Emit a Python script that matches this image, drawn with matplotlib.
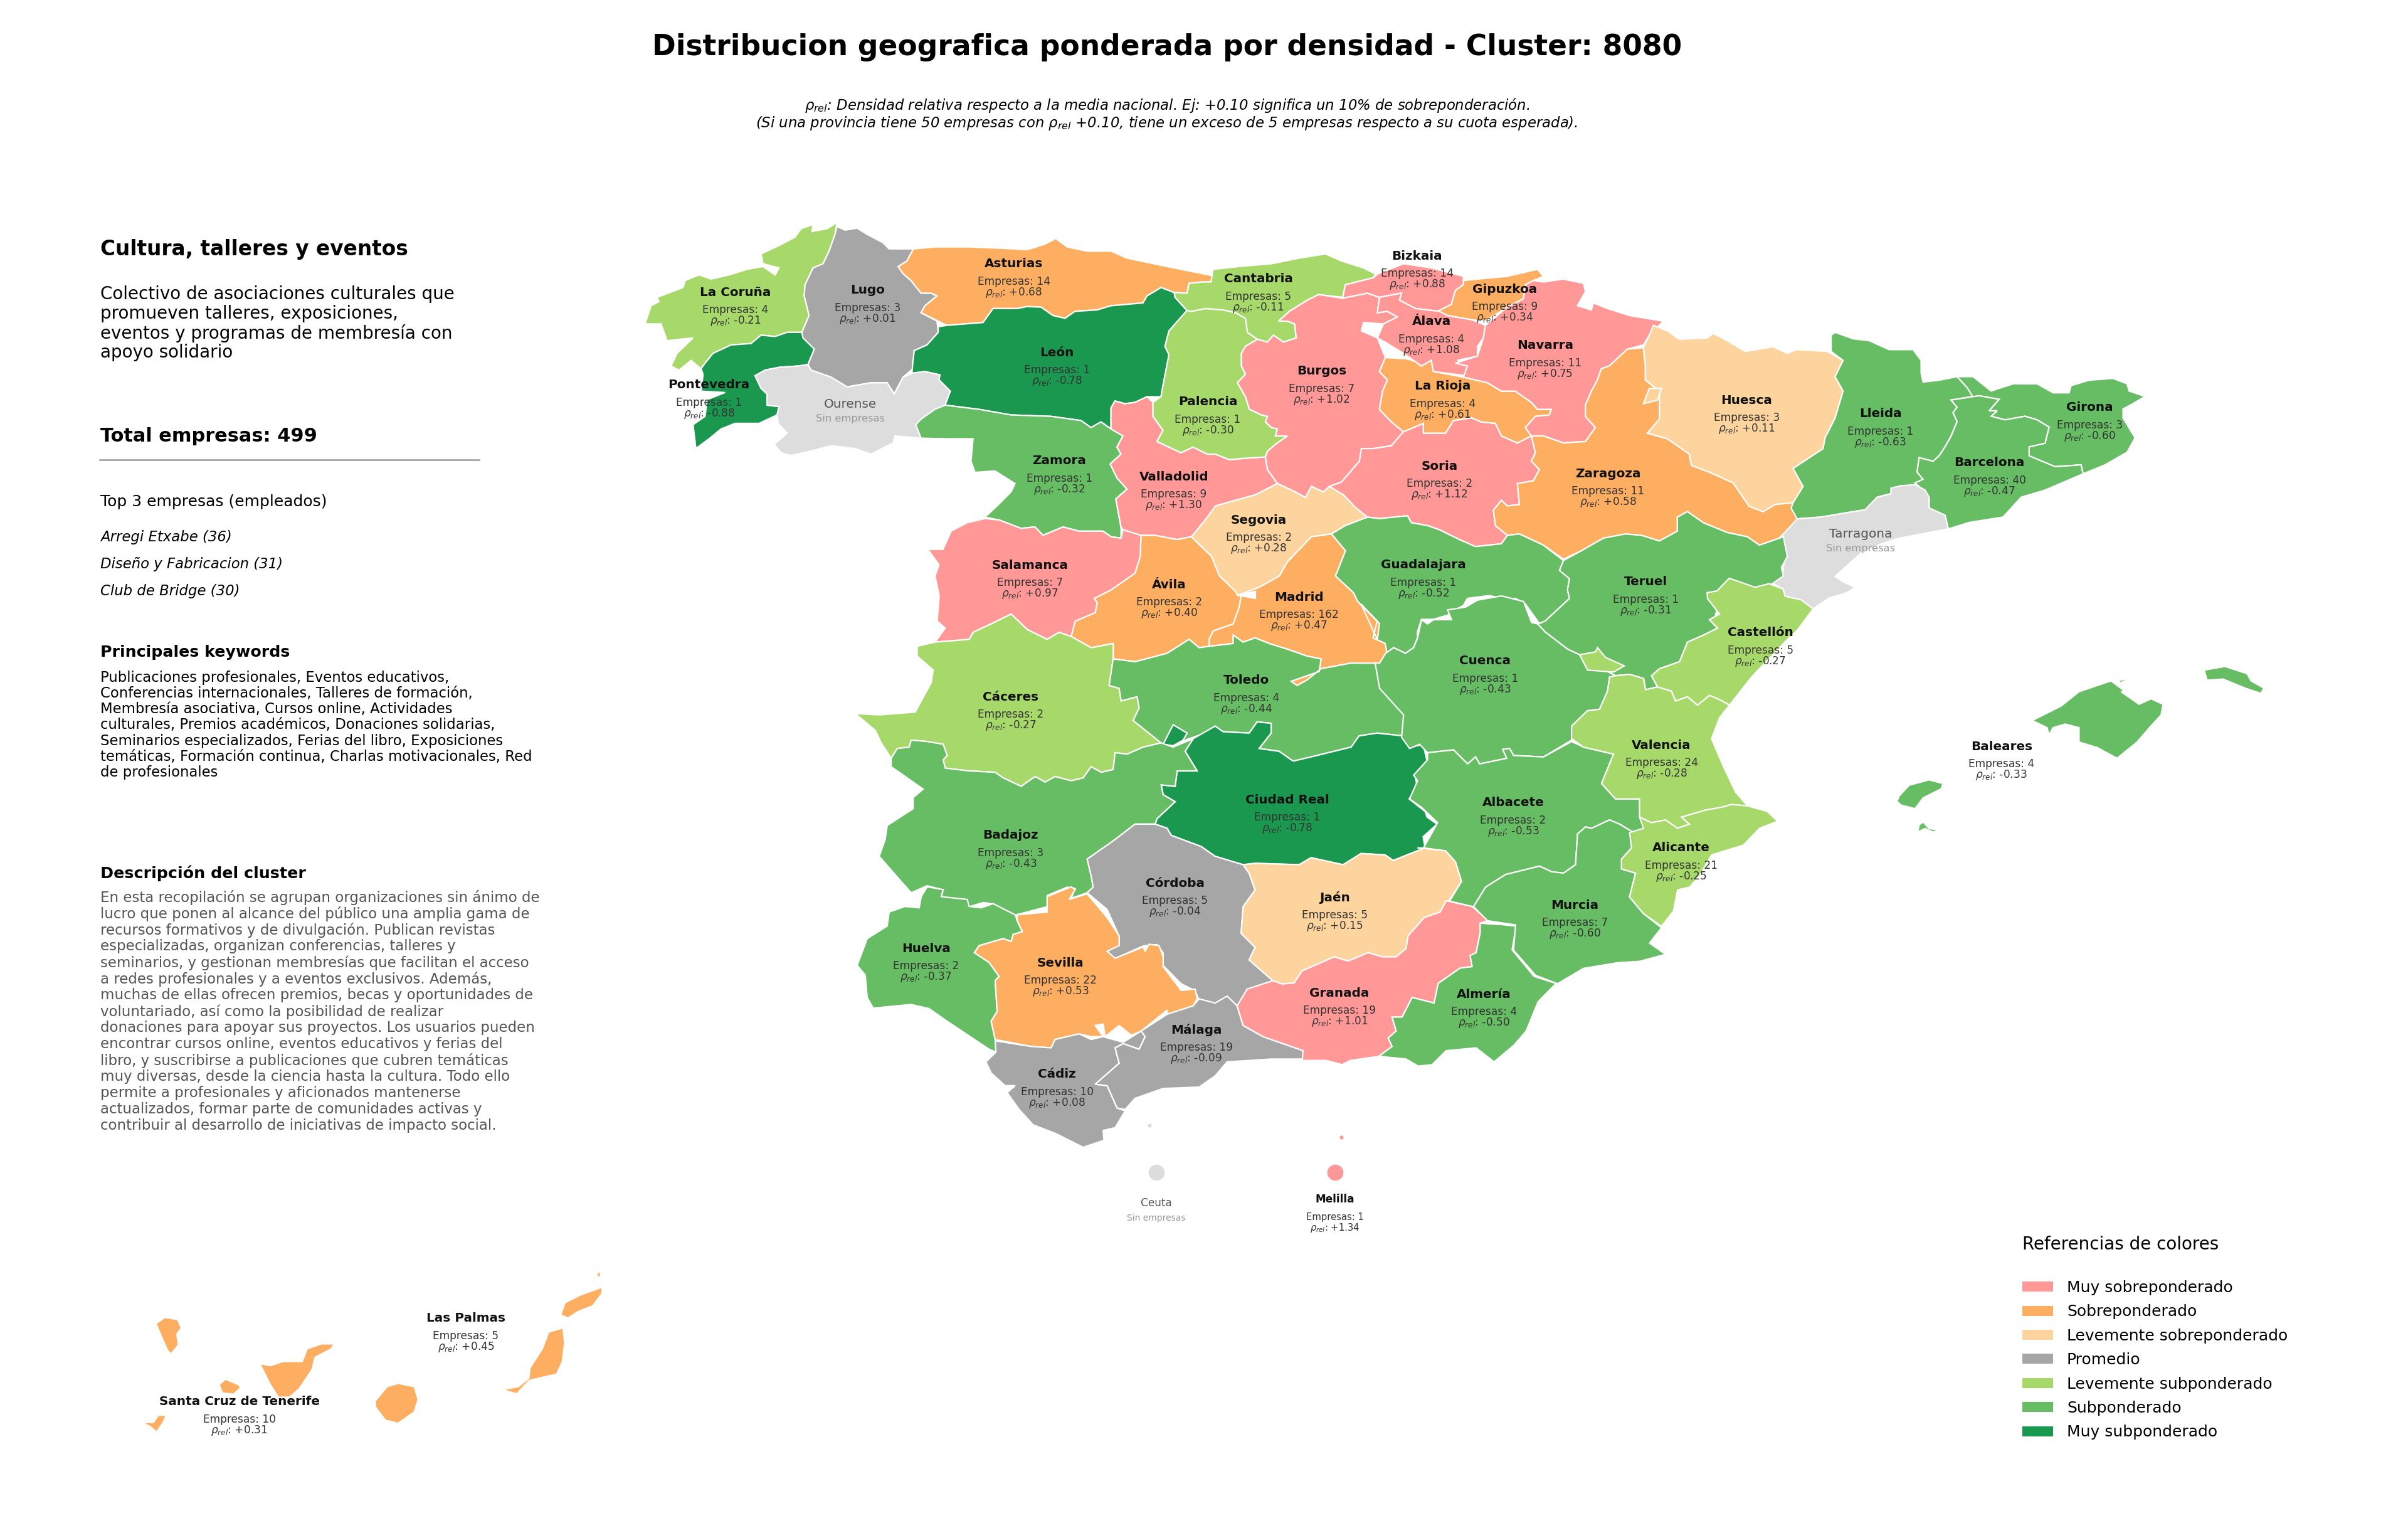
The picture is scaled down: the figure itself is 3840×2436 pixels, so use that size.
"""Mapa de densidad relativa por provincia, cluster 8080."""
import matplotlib
matplotlib.use("Agg")
import matplotlib.pyplot as plt
from matplotlib.patches import Patch


def crop(x0, y0, w, h):
    return lambda pts: [(x0 + x * w / 1568, y0 + y * h / 1568) for x, y in pts]


Z1 = crop(1000, 320, 1000, 700)
Z2 = crop(1900, 320, 1000, 700)
Z3 = crop(2700, 500, 1000, 900)
Z4 = crop(1300, 950, 1000, 700)
Z5 = crop(2200, 950, 1000, 700)
Z6 = crop(1300, 1300, 1000, 700)
Z7 = crop(2000, 1300, 1000, 700)
Z9 = crop(130, 1300, 800, 1050)
V = crop(0, 0, 3840, 3840)

# ---------------------------------------------------------------------------
# Data
# ---------------------------------------------------------------------------
NAMES = ["La Coruña", "Lugo", "Asturias", "León", "Pontevedra", "Zamora", "Valladolid", "Palencia",
         "Salamanca", "Ávila", "Bizkaia", "Cantabria", "Gipuzkoa", "Álava", "Navarra", "Burgos",
         "La Rioja", "Soria", "Zaragoza", "Huesca", "Segovia", "Madrid", "Guadalajara", "Teruel",
         "Lleida", "Girona", "Barcelona", "Castellón", "Baleares", "Cáceres", "Toledo", "Ciudad Real",
         "Badajoz", "Córdoba", "Jaén", "Huelva", "Sevilla", "Granada", "Cuenca", "Valencia",
         "Albacete", "Alicante", "Murcia", "Málaga", "Cádiz", "Almería", "Las Palmas",
         "Santa Cruz de Tenerife", "Melilla"]
EMPRESAS = [4, 3, 14, 1, 1, 1, 9, 1, 7, 2, 14, 5, 9, 4, 11, 7, 4, 2, 11, 3, 2, 162, 1, 1,
            1, 3, 40, 5, 4, 2, 4, 1, 3, 5, 5, 2, 22, 19, 1, 24, 2, 21, 7, 19, 10, 4, 5, 10, 1]
RHO_REL = [-0.21, 0.01, 0.68, -0.78, -0.88, -0.32, 1.30, -0.30, 0.97, 0.40, 0.88, -0.11, 0.34,
           1.08, 0.75, 1.02, 0.61, 1.12, 0.58, 0.11, 0.28, 0.47, -0.52, -0.31, -0.63, -0.60,
           -0.47, -0.27, -0.33, -0.27, -0.44, -0.78, -0.43, -0.04, 0.15, -0.37, 0.53, 1.01,
           -0.43, -0.28, -0.53, -0.25, -0.60, -0.09, 0.08, -0.50, 0.45, 0.31, 1.34]
NO_DATA = ["Ourense", "Tarragona", "Ceuta"]

LABEL_POS = dict(zip(NAMES, (
    Z1([(271, 323), (601, 315), (967, 221), (1075, 538), (205, 653), (1081, 925), (1367, 982),
        (1452, 714), (1007, 1298), (1355, 1367)])
    + Z2([(564, 193), (167, 275), (784, 312), (600, 427), (884, 512), (325, 604), (628, 658),
          (620, 944), (1042, 971), (1388, 708), (168, 1136), (269, 1412), (580, 1296), (1136, 1357)])
    + Z3([(468, 275), (992, 257), (741, 411), (168, 883), (771, 1199)])
    + Z4([(489, 357), (1078, 297), (1180, 724), (489, 851), (900, 1022), (1299, 1073), (277, 1255),
          (613, 1306), (1311, 1414)])
    + Z5([(264, 228), (705, 529), (334, 734), (754, 895), (488, 1100)])
    + Z6([(953, 761), (605, 920)])
    + Z7([(575, 634)])
    + Z9([(1201, 1194), (493, 1393)])
    + [(2129, 1910)]
)))
NO_DATA_POS = {"Ourense": Z1([(558, 724), (558, 776)]), "Tarragona": Z3([(419, 610), (419, 650)]),
               "Ceuta": [(1844, 1917), (1844, 1941)]}

LEGEND_LABELS = ["Muy sobreponderado", "Sobreponderado", "Levemente sobreponderado", "Promedio",
                 "Levemente subponderado", "Subponderado", "Muy subponderado"]
LEGEND_COLORS = ["#FF9896", "#FDAE61", "#FDD49E", "#A6A6A6", "#A6D96A", "#66BD63", "#1A9850"]
NO_DATA_COLOR = "#DDDDDD"

HEADLINE = "Cultura, talleres y eventos"
TAGLINE = ["Colectivo de asociaciones culturales que", "promueven talleres, exposiciones,",
           "eventos y programas de membresía con", "apoyo solidario"]
TOP3 = ["Arregi Etxabe (36)", "Diseño y Fabricacion (31)", "Club de Bridge (30)"]
KEYWORDS = ["Publicaciones profesionales, Eventos educativos,",
            "Conferencias internacionales, Talleres de formación,",
            "Membresía asociativa, Cursos online, Actividades",
            "culturales, Premios académicos, Donaciones solidarias,",
            "Seminarios especializados, Ferias del libro, Exposiciones",
            "temáticas, Formación continua, Charlas motivacionales, Red",
            "de profesionales"]
DESCRIPTION = ["En esta recopilación se agrupan organizaciones sin ánimo de",
               "lucro que ponen al alcance del público una amplia gama de",
               "recursos formativos y de divulgación. Publican revistas",
               "especializadas, organizan conferencias, talleres y",
               "seminarios, y gestionan membresías que facilitan el acceso",
               "a redes profesionales y a eventos exclusivos. Además,",
               "muchas de ellas ofrecen premios, becas y oportunidades de",
               "voluntariado, así como la posibilidad de realizar",
               "donaciones para apoyar sus proyectos. Los usuarios pueden",
               "encontrar cursos online, eventos educativos y ferias del",
               "libro, y suscribirse a publicaciones que cubren temáticas",
               "muy diversas, desde la ciencia hasta la cultura. Todo ello",
               "permite a profesionales y aficionados mantenerse",
               "actualizados, formar parte de comunidades activas y",
               "contribuir al desarrollo de iniciativas de impacto social."]

# province outlines
OUTLINES = {
    "La Coruña": [Z1([(525, 78), (520, 120), (505, 180), (490, 225), (465, 240), (445, 300), (443, 340), (455, 410),
                      (437, 470), (400, 470), (370, 485), (335, 480), (310, 510), (260, 515), (215, 545), (195, 580),
                      (185, 600), (160, 570), (130, 605), (110, 590), (125, 545), (165, 490), (130, 495), (100, 500),
                      (85, 440), (45, 440), (60, 375), (80, 360), (75, 345), (140, 310), (145, 285), (180, 265),
                      (210, 280), (255, 265), (300, 245), (340, 235), (370, 265), (380, 240), (340, 225), (335, 190),
                      (380, 160), (420, 130), (435, 100), (465, 85), (462, 110), (480, 105), (500, 100)])],
    "Lugo": [Z1([(520, 120), (525, 92), (545, 105), (575, 98), (600, 120), (640, 150), (655, 172), (716, 172),
                 (700, 215), (678, 235), (690, 260), (710, 285), (735, 330), (760, 330), (775, 340), (745, 375),
                 (735, 400), (775, 430), (778, 470), (750, 515), (718, 535), (715, 600), (690, 630), (668, 690),
                 (650, 650), (610, 650), (550, 665), (510, 630), (460, 605), (452, 585), (468, 530), (437, 490),
                 (437, 470), (455, 410), (443, 340), (445, 300), (465, 240), (490, 225), (505, 180)])],
    "Asturias": [Z1([(716, 172), (770, 165), (850, 165), (940, 170), (1000, 175), (1045, 155), (1072, 135), (1100, 165),
                     (1150, 180), (1210, 180), (1250, 205), (1350, 235), (1465, 268), (1460, 290), (1440, 290),
                     (1405, 295), (1400, 330), (1368, 328), (1335, 310), (1300, 340), (1290, 365), (1210, 375),
                     (1175, 390), (1120, 395), (1095, 420), (1065, 410), (1035, 380), (1000, 378), (975, 385),
                     (915, 385), (890, 435), (800, 445), (778, 430), (735, 400), (745, 375), (775, 340), (760, 330),
                     (735, 330), (710, 285), (690, 260), (678, 235), (700, 215)])],
    "León": [Z1([(800, 445), (890, 435), (915, 385), (975, 385), (1000, 378), (1035, 380), (1065, 410), (1095, 420),
                 (1120, 395), (1175, 390), (1210, 375), (1290, 365), (1300, 340), (1335, 310), (1368, 328), (1370, 345),
                 (1400, 392), (1355, 465), (1345, 520), (1355, 550), (1340, 660), (1335, 700), (1300, 700), (1270, 720),
                 (1245, 725), (1220, 715), (1210, 740), (1210, 815), (1185, 790), (1160, 810), (1135, 785), (1060, 770),
                 (960, 765), (880, 745), (795, 730), (808, 680), (780, 640), (782, 622), (745, 610), (712, 618),
                 (715, 570), (718, 535), (750, 515), (778, 470), (778, 450)])],
    "Pontevedra": [Z1([(437, 470), (440, 490), (468, 530), (452, 585), (430, 590), (380, 595), (345, 605), (320, 625),
                       (335, 670), (350, 690), (350, 730), (380, 735), (375, 765), (330, 795), (270, 795), (235, 815),
                       (205, 850), (172, 885), (165, 800), (195, 770), (200, 710), (245, 685), (185, 680), (190, 620),
                       (185, 600), (195, 580), (215, 545), (260, 515), (310, 510), (335, 480), (370, 485), (400, 470)])],
    "Ourense": [Z1([(320, 625), (345, 605), (380, 595), (430, 590), (452, 585), (460, 605), (510, 630), (550, 665),
                    (610, 650), (650, 650), (668, 690), (690, 630), (715, 615), (745, 610), (782, 622), (780, 640),
                    (808, 680), (795, 730), (770, 745), (735, 780), (722, 800), (735, 820), (735, 848), (670, 840),
                    (665, 865), (610, 905), (570, 885), (510, 875), (470, 890), (410, 910), (385, 900), (368, 870),
                    (400, 830), (378, 795), (375, 765), (380, 735), (350, 730), (350, 690), (335, 670)])],
    "Zamora": [Z1([(795, 730), (880, 745), (960, 765), (1060, 770), (1135, 785), (1160, 810), (1185, 790), (1210, 815),
                   (1240, 840), (1225, 880), (1235, 905), (1208, 940), (1225, 990), (1250, 1030), (1222, 1065),
                   (1235, 1165), (1235, 1205), (1210, 1200), (1190, 1180), (1130, 1180), (1090, 1165), (1040, 1195),
                   (1020, 1165), (985, 1170), (930, 1140), (895, 1130), (925, 1090), (960, 1040), (970, 1010),
                   (920, 965), (870, 970), (860, 930), (865, 850), (800, 850), (735, 848), (722, 800), (735, 780),
                   (770, 745)])],
    "Valladolid": [Z1([(1210, 740), (1220, 715), (1245, 725), (1270, 720), (1300, 700), (1315, 720), (1315, 770), (1340, 820),
                       (1325, 860), (1385, 900), (1415, 880)])
                   + Z2([(40, 905), (60, 905), (95, 925), (130, 920), (185, 915), (190, 960), (215, 1010), (160, 1050),
                         (60, 1090), (40, 1130), (0, 1200)])
                   + Z1([(1375, 1210), (1320, 1195), (1285, 1195), (1240, 1175), (1235, 1165), (1222, 1065), (1250, 1030),
                         (1225, 990), (1208, 940), (1235, 905), (1225, 880), (1240, 840), (1210, 815)])],
    "Palencia": [Z2([(0, 395), (35, 385), (80, 390), (110, 400), (135, 420), (140, 470), (165, 495), (135, 520),
                     (125, 545), (125, 590), (135, 620), (115, 650), (135, 700), (145, 745), (175, 765), (190, 770),
                     (185, 790), (200, 810), (215, 815), (210, 840), (240, 840), (210, 870), (190, 895), (185, 915),
                     (130, 920), (95, 925), (60, 905), (40, 905)])
                 + Z1([(1415, 880), (1385, 900), (1325, 860), (1340, 820), (1315, 770), (1315, 720), (1335, 700),
                       (1340, 660), (1355, 550), (1345, 520), (1355, 465), (1400, 392)])],
    "Cantabria": [Z2([(54, 245), (120, 235), (200, 225), (270, 205), (335, 190), (375, 215), (430, 240), (460, 262),
                      (455, 275), (385, 300), (378, 345), (318, 335), (290, 355), (245, 395), (218, 430), (240, 430),
                      (258, 440), (262, 490), (230, 505), (205, 480), (190, 505), (165, 495), (140, 470), (135, 420),
                      (110, 400), (80, 390), (35, 385), (0, 395), (-11, 392), (-41, 345), (-43, 328), (-11, 330),
                      (-6, 295), (29, 290), (49, 290)])],
    "Burgos": [Z2([(318, 335), (378, 348), (440, 330), (470, 345), (465, 400), (490, 395), (515, 415), (480, 440),
                   (430, 435), (425, 465), (465, 490), (485, 560), (470, 610), (490, 640), (478, 680), (470, 745),
                   (500, 790), (530, 825), (500, 875), (455, 885), (425, 885), (420, 930), (375, 1005), (345, 1020),
                   (330, 1040), (300, 1020), (285, 1060), (260, 1040), (215, 1010), (190, 960), (185, 915), (190, 895),
                   (210, 870), (240, 840), (210, 840), (215, 815), (200, 810), (185, 790), (190, 770), (175, 765),
                   (145, 745), (135, 700), (115, 650), (135, 620), (125, 590), (125, 545), (135, 520), (165, 495),
                   (190, 505), (205, 480), (230, 505), (262, 490), (258, 440), (240, 430), (218, 430), (245, 395),
                   (290, 355)])],
    "Segovia": [Z2([(215, 1010), (260, 1040), (285, 1060), (300, 1020), (330, 1040), (345, 1020), (380, 1050), (410, 1095),
                    (440, 1130), (385, 1160), (350, 1190), (300, 1200), (240, 1290), (220, 1340), (170, 1380),
                    (115, 1410), (110, 1395), (70, 1340), (50, 1270), (10, 1215), (0, 1200), (40, 1130), (60, 1090),
                    (160, 1050)])],
    "Soria": [Z2([(530, 825), (580, 795), (580, 830), (635, 830), (655, 785), (700, 775), (725, 790), (760, 795),
                  (775, 840), (815, 865), (850, 840), (860, 900), (850, 930), (870, 960), (855, 1000), (815, 1010),
                  (820, 1085), (790, 1090), (775, 1070), (755, 1105), (760, 1160), (790, 1195), (775, 1225), (710, 1235),
                  (670, 1210), (620, 1175), (590, 1160), (550, 1150), (540, 1125), (470, 1135), (440, 1130), (410, 1095),
                  (380, 1050), (345, 1020), (375, 1005), (420, 930), (425, 885), (455, 885), (500, 875)])],
    "La Rioja": [Z2([(485, 560), (540, 565), (560, 575), (575, 590), (600, 570), (605, 610), (680, 630), (740, 650),
                     (775, 680), (810, 680), (850, 720), (865, 745), (900, 745), (895, 765), (860, 770), (835, 810),
                     (850, 840), (815, 865), (775, 840), (760, 795), (725, 790), (700, 775), (655, 785), (635, 830),
                     (580, 830), (580, 795), (530, 825), (500, 790), (470, 745), (478, 680), (490, 640), (470, 610)])],
    "Bizkaia": [Z2([(385, 300), (455, 275), (465, 262), (530, 225), (600, 240), (680, 270), (680, 300), (660, 320),
                    (650, 370), (620, 395), (560, 385), (520, 355), (525, 330), (470, 345), (440, 330), (378, 348)])],
    "Gipuzkoa": [Z2([(680, 285), (750, 275), (790, 270), (865, 245), (880, 270), (855, 285), (835, 300), (830, 350),
                     (790, 380), (735, 430), (700, 425), (640, 410), (615, 395), (650, 370), (660, 320), (680, 300)])],
    "Álava": [Z2([(470, 345), (525, 330), (520, 355), (560, 385), (620, 395), (640, 410), (700, 425), (735, 445),
                  (730, 490), (715, 520), (715, 555), (665, 570), (690, 590), (688, 625), (605, 610), (600, 570),
                  (575, 590), (560, 575), (530, 545), (490, 510), (465, 490), (480, 440), (515, 415), (490, 395),
                  (465, 400)])],
    "Navarra": [Z2([(880, 290), (930, 280), (980, 295), (985, 325), (965, 375), (1000, 390), (1005, 365), (1040, 385),
                    (1095, 410), (1180, 430), (1145, 480), (1130, 515), (1090, 530), (1045, 590), (1025, 600),
                    (1015, 640), (1000, 680), (985, 730), (985, 770), (1010, 810), (985, 860), (930, 865), (880, 840),
                    (850, 840), (835, 810), (860, 770), (895, 765), (900, 745), (865, 745), (850, 720), (810, 680),
                    (775, 680), (740, 650), (680, 630), (690, 590), (660, 580), (715, 555), (730, 490), (735, 445),
                    (790, 380), (830, 350), (835, 300), (855, 285)])],
    "Zaragoza": [Z2([(1130, 525), (1135, 590), (1135, 640), (1170, 680), (1170, 780), (1140, 830), (1190, 850), (1245, 905),
                     (1250, 945)])
                 + Z3([(40, 440), (100, 470), (140, 535), (175, 550), (205, 530), (250, 525), (260, 570)])
                 + Z2([(1480, 1200), (1420, 1230), (1390, 1200), (1340, 1185), (1280, 1150), (1240, 1110), (1215, 1130),
                       (1215, 1180), (1170, 1215), (1125, 1195), (1085, 1190), (1030, 1205), (975, 1250), (930, 1280),
                       (880, 1230), (820, 1190), (790, 1195), (760, 1160), (755, 1105), (775, 1070), (790, 1090),
                       (820, 1085), (815, 1010), (855, 1000), (870, 960), (850, 930), (860, 900), (850, 840), (880, 840),
                       (930, 865), (985, 860), (1010, 810), (985, 770), (985, 730), (1000, 680), (1015, 640), (1025, 600),
                       (1045, 590), (1090, 530)])],
    "Huesca": [Z2([(1140, 830), (1170, 780), (1170, 680), (1135, 640), (1135, 590), (1130, 525), (1145, 480), (1155, 445),
                   (1190, 465), (1220, 495), (1290, 490)])
               + Z3([(50, 55), (85, 75), (130, 105), (200, 92), (235, 110), (260, 100), (335, 105), (375, 130), (355, 175),
                     (375, 215), (355, 290), (330, 345), (325, 375), (250, 430), (275, 480), (250, 525), (205, 530),
                     (175, 550), (140, 535), (100, 470), (40, 440)])
               + Z2([(1250, 945), (1245, 905), (1190, 850)]),
               Z2([(1145, 670), (1175, 670), (1165, 712), (1130, 725)])],
    "Lleida": [Z3([(345, 60), (355, 52), (400, 70), (440, 75), (490, 100), (550, 100), (570, 130), (570, 165), (575, 190),
                   (615, 185), (660, 175), (685, 205), (700, 230), (645, 240), (660, 260), (650, 275), (660, 300),
                   (645, 340), (630, 370), (615, 395), (600, 410), (565, 400), (560, 440), (575, 460), (555, 470),
                   (575, 485), (520, 478), (495, 485), (495, 500), (460, 510), (430, 545), (400, 550), (320, 565),
                   (260, 570), (245, 540), (250, 525), (275, 480), (250, 430), (325, 375), (330, 345), (355, 290),
                   (375, 215), (355, 175), (375, 130), (345, 105)])],
    "Girona": [Z3([(660, 175), (700, 175), (745, 215), (800, 195), (860, 195), (900, 220), (940, 220), (945, 200),
                   (990, 185), (1050, 180), (1085, 195), (1090, 215), (1130, 230), (1100, 250), (1075, 265), (1075, 290),
                   (1105, 345), (1085, 385), (1030, 420), (975, 445), (970, 420), (905, 425), (840, 395), (840, 370),
                   (880, 360), (890, 315), (860, 295), (830, 285), (780, 295), (745, 285), (760, 270), (740, 270),
                   (765, 238), (715, 228), (700, 232), (685, 205)])],
    "Barcelona": [Z3([(645, 240), (715, 228), (765, 238), (740, 270), (760, 270), (745, 285), (780, 295), (830, 285),
                      (860, 295), (890, 315), (880, 360), (840, 370), (840, 395), (905, 425), (970, 420), (975, 445),
                      (880, 490), (820, 510), (775, 565), (690, 580), (638, 598), (630, 560), (590, 540), (590, 510),
                      (575, 490), (555, 470), (575, 460), (560, 440), (565, 400), (600, 410), (615, 395), (630, 370),
                      (645, 340), (660, 300), (650, 275), (660, 260)])],
    "Tarragona": [Z3([(260, 570), (320, 565), (400, 550), (430, 545), (460, 510), (495, 500), (495, 485), (520, 478),
                      (555, 475), (580, 490), (590, 510), (590, 540), (630, 560), (638, 598), (580, 610), (510, 625),
                      (470, 640), (420, 665), (385, 700), (355, 730), (375, 745), (405, 760), (385, 775), (340, 790),
                      (300, 820), (270, 795), (230, 785), (225, 765), (195, 748), (225, 715), (230, 660), (205, 635),
                      (240, 595)])],
    "Teruel": [Z2([(930, 1285), (975, 1250), (1030, 1205), (1085, 1190), (1125, 1195), (1170, 1215), (1215, 1180),
                   (1215, 1130), (1240, 1110), (1280, 1150), (1340, 1185), (1390, 1200), (1420, 1230), (1480, 1200),
                   (1490, 1270), (1475, 1310), (1480, 1340), (1450, 1370), (1400, 1385), (1345, 1350), (1320, 1395),
                   (1290, 1400), (1320, 1430), (1310, 1480), (1320, 1530)])
               + Z5([(850, 65), (825, 85), (845, 115), (810, 140), (770, 165), (750, 235), (700, 260), (680, 285),
                     (695, 325), (665, 335), (660, 295), (625, 280), (590, 285), (570, 270), (520, 255), (500, 210),
                     (470, 190), (415, 130), (395, 100)])
               + Z2([(885, 1500), (945, 1420), (940, 1390), (945, 1350), (920, 1320)])],
    "Guadalajara": [Z2([(350, 1190), (385, 1160), (440, 1130), (470, 1135), (540, 1125), (550, 1150), (590, 1160), (620, 1175),
                        (670, 1210), (710, 1235), (775, 1225), (790, 1195), (820, 1190), (880, 1230), (930, 1285),
                        (920, 1320), (945, 1350), (940, 1390), (945, 1420), (885, 1500), (870, 1510), (835, 1440),
                        (810, 1420), (790, 1425), (745, 1410), (690, 1420), (680, 1445), (650, 1470), (640, 1480),
                        (605, 1495), (575, 1495), (565, 1540)])
                    + Z5([(95, 150), (85, 185), (65, 205), (35, 185), (15, 205)])
                    + Z4([(1425, 170), (1395, 150), (1405, 90), (1365, 30)])
                    + Z2([(470, 1510), (415, 1430), (405, 1400), (360, 1340), (385, 1250)])],
    "Madrid": [Z2([(350, 1190), (385, 1250), (360, 1340), (405, 1400), (415, 1430), (470, 1510), (465, 1568)])
               + Z4([(1365, 30), (1405, 90), (1395, 150), (1425, 170), (1430, 205), (1430, 240), (1400, 240), (1340, 240),
                     (1265, 260), (1230, 300), (1205, 320), (1190, 305), (1260, 270), (1265, 225), (1230, 215),
                     (1180, 190), (1135, 170), (1100, 150), (1070, 165), (1045, 140), (1045, 170), (985, 180), (985, 155),
                     (995, 125), (1045, 100), (1060, 40), (1065, 0)])
               + Z2([(160, 1420), (160, 1395), (115, 1410), (170, 1380), (220, 1340), (240, 1290), (300, 1200)])],
    "Ávila": [Z1([(1285, 1195), (1320, 1195), (1375, 1210), (1411, 1200)])
              + Z2([(10, 1215), (50, 1270), (70, 1340), (110, 1395), (115, 1410), (124, 1411)])
              + Z4([(1060, 40), (1045, 100), (995, 125), (985, 155), (985, 180), (960, 185), (935, 155), (880, 205),
                    (800, 235), (745, 225), (745, 170), (690, 185), (640, 145), (650, 90), (700, 60), (705, 25)])
              + Z1([(1168, 1420), (1210, 1390), (1270, 1330), (1283, 1270)])],
    "Salamanca": [Z1([(752, 1245), (790, 1245), (810, 1180), (850, 1150), (895, 1135), (930, 1140), (985, 1170), (1020, 1165),
                      (1040, 1195), (1090, 1165), (1130, 1180), (1190, 1180), (1210, 1200), (1235, 1205), (1240, 1175),
                      (1285, 1195), (1283, 1270), (1270, 1330), (1210, 1390), (1168, 1420)])
                  + Z4([(705, 25), (700, 60), (650, 90), (640, 145), (610, 130), (580, 155), (530, 120), (490, 65), (440, 100),
                        (395, 130), (385, 155), (345, 160), (300, 165), (325, 115), (305, 90), (310, 0)])
                  + Z1([(770, 1340), (780, 1300)])],
    "Cáceres": [Z4([(300, 165), (345, 160), (385, 155), (395, 130), (440, 100), (490, 65), (530, 120), (580, 155), (610, 130),
                    (640, 145), (690, 185), (745, 170), (745, 225), (735, 320), (760, 330), (765, 375), (805, 360),
                    (810, 400), (795, 445), (865, 525), (820, 540), (780, 565), (750, 560), (745, 620), (715, 630),
                    (690, 610), (670, 650), (640, 660), (600, 645), (575, 665), (550, 645), (515, 680), (470, 650),
                    (450, 630), (385, 625), (325, 615), (320, 585), (330, 570), (320, 530), (280, 520), (240, 515),
                    (235, 540), (205, 545), (190, 580), (165, 525), (150, 480), (100, 420), (160, 425), (250, 415),
                    (290, 310), (295, 265), (255, 215), (255, 180)])],
    "Toledo": [Z4([(745, 225), (800, 235), (880, 205), (935, 155), (960, 185), (985, 180), (1045, 170), (1045, 140),
                   (1070, 165), (1100, 150), (1135, 170), (1180, 190), (1230, 215), (1265, 225), (1260, 270), (1190, 305),
                   (1205, 320), (1230, 300), (1265, 260), (1340, 240), (1400, 240), (1415, 330), (1475, 420), (1470, 500),
                   (1405, 490), (1360, 500), (1340, 540), (1240, 575), (1195, 590), (1160, 555), (1110, 545), (1140, 490),
                   (1140, 455), (1105, 450), (1085, 490), (1020, 485), (1000, 465), (965, 495), (925, 515), (895, 540),
                   (865, 525), (795, 445), (810, 400), (805, 360), (765, 375), (760, 330), (735, 320)])],
    "Ciudad Real": [Z4([(945, 510), (1000, 465), (1020, 485), (1085, 490), (1105, 450), (1140, 455), (1140, 490), (1110, 545),
                        (1160, 555), (1195, 590), (1240, 575), (1340, 540), (1360, 500), (1405, 490), (1470, 500),
                        (1490, 540), (1520, 530), (1530, 590), (1500, 640), (1505, 680), (1485, 725), (1525, 770),
                        (1530, 790), (1555, 815), (1520, 860), (1525, 900), (1480, 925), (1445, 945), (1425, 925),
                        (1365, 920), (1320, 960), (1240, 935), (1210, 960), (1100, 955), (1070, 960), (1000, 930),
                        (965, 895), (890, 855), (880, 830), (850, 815), (855, 795), (900, 735), (870, 710), (865, 675),
                        (900, 680), (905, 625), (955, 625), (925, 555)]),
                    Z4([(895, 460), (930, 490), (920, 515), (895, 535), (870, 530)])],
    "Badajoz": [Z4([(190, 580), (205, 545), (235, 540), (240, 515), (280, 520), (320, 530), (330, 570), (320, 585),
                    (325, 615), (385, 625), (450, 630), (470, 650), (515, 680), (550, 645), (575, 665), (600, 645),
                    (640, 660), (670, 650), (690, 610), (715, 630), (745, 620), (750, 560), (780, 565), (820, 540),
                    (865, 525), (895, 540), (945, 510), (925, 555), (955, 625), (905, 625), (900, 680), (865, 675),
                    (870, 710), (900, 735), (855, 795), (850, 815), (800, 815), (745, 875), (680, 940), (690, 1000),
                    (695, 1040), (680, 1060), (640, 1080), (650, 1045), (630, 1040), (580, 1070), (580, 1110), (500, 1140),
                    (445, 1100), (420, 1095), (385, 1110), (370, 1085), (315, 1075), (320, 1050), (280, 1035), (240, 1060),
                    (215, 1020), (160, 930), (175, 870), (180, 820), (245, 760), (245, 720), (270, 690), (230, 650),
                    (190, 610)])],
    "Córdoba": [Z4([(800, 815), (850, 815), (880, 830), (890, 855), (965, 895), (1000, 930), (1070, 960), (1085, 990),
                    (1100, 1050), (1070, 1110), (1065, 1205), (1100, 1255), (1085, 1300), (1145, 1375), (1080, 1410),
                    (1055, 1465), (1030, 1430), (1000, 1465), (960, 1445), (950, 1410), (915, 1385), (870, 1320),
                    (870, 1275), (855, 1245), (820, 1250), (750, 1295), (730, 1270), (760, 1240), (760, 1215), (730, 1120),
                    (680, 1060), (695, 1040), (690, 1000), (680, 940), (745, 875)])],
    "Jaén": [Z4([(1070, 960), (1100, 955), (1210, 960), (1240, 935), (1320, 960), (1365, 920), (1425, 925), (1445, 945),
                 (1480, 925), (1525, 900)])
             + Z5([(95, 900), (165, 910), (190, 950), (205, 1020), (175, 1085)])
             + Z7([(465, 345), (425, 365), (385, 430), (380, 475), (355, 505), (320, 505), (285, 490), (235, 520),
                   (200, 505), (120, 555), (100, 598), (70, 602)])
             + Z4([(1145, 1375), (1085, 1300), (1100, 1255), (1065, 1205), (1070, 1110), (1100, 1050), (1085, 990)])],
    "Huelva": [Z6([(280, 255), (320, 265), (315, 290), (380, 300), (385, 325), (415, 330), (445, 315), (500, 355),
                   (505, 375), (518, 415), (495, 425), (490, 450), (470, 440), (410, 465), (398, 490), (435, 525),
                   (460, 575), (450, 590), (455, 700), (440, 735), (450, 800), (452, 845), (435, 835), (330, 735),
                   (285, 690), (240, 675), (145, 688), (130, 650), (125, 570), (105, 535), (130, 440), (180, 395),
                   (185, 345), (225, 325), (260, 330), (265, 290)])],
    "Sevilla": [Z6([(505, 355), (580, 345), (580, 290), (640, 255), (650, 265), (635, 300), (680, 280), (730, 365),
                    (760, 430), (760, 465), (730, 485), (750, 510), (820, 470), (825, 485), (835, 460), (860, 465),
                    (870, 505), (870, 540), (915, 625), (950, 620), (955, 655), (945, 680), (880, 710), (880, 695),
                    (815, 770), (790, 785), (760, 750), (725, 790), (720, 745), (700, 750), (720, 790), (690, 790),
                    (660, 780), (600, 800), (590, 830), (540, 825), (450, 800), (440, 735), (455, 700), (450, 590),
                    (460, 575), (435, 525), (398, 490), (410, 465), (470, 440), (490, 450), (495, 425), (518, 415),
                    (505, 375)])],
    "Cádiz": [Z6([(450, 805), (540, 825), (590, 830), (600, 800), (660, 780), (690, 800), (720, 790), (770, 810), (815, 770),
                  (825, 790), (810, 835), (770, 815), (750, 830), (760, 885), (700, 960), (730, 965), (755, 1045),
                  (775, 1055), (750, 1115), (720, 1125), (722, 1160), (670, 1185), (600, 1135), (545, 1105), (510, 1050),
                  (480, 990), (500, 965), (475, 965), (440, 920), (427, 880), (452, 845)])],
    "Málaga": [Z6([(960, 655), (1000, 670), (1030, 645), (1055, 680), (1070, 750), (1120, 790), (1220, 840), (1220, 870),
                   (1140, 870), (1030, 880), (1000, 930), (960, 970), (870, 975), (800, 1010), (775, 1050), (755, 1045),
                   (730, 965), (700, 960), (760, 885), (750, 830), (770, 815), (810, 835), (825, 790), (815, 770),
                   (880, 710), (945, 680)])],
    "Granada": [Z7([(480, 305), (545, 325), (585, 375), (565, 385), (565, 420), (555, 490), (540, 500), (545, 540),
                    (515, 545), (460, 600), (450, 670), (395, 650), (370, 720), (345, 720), (355, 770), (335, 795),
                    (345, 825), (312, 860), (240, 875), (220, 890), (180, 875), (140, 875), (120, 875)])
                + Z6([(1220, 840), (1120, 790), (1070, 750), (1055, 680), (1080, 620), (1145, 590)])
                + Z7([(70, 602), (100, 598), (120, 555), (200, 505), (235, 520), (285, 490), (320, 505), (355, 505),
                      (380, 475), (385, 430), (425, 365), (465, 345)])],
    "Almería": [Z7([(565, 385), (620, 390), (655, 395), (645, 480), (700, 575), (755, 600), (710, 665), (680, 770), (650, 820),
                    (600, 880), (555, 830), (480, 840), (445, 890), (410, 895), (380, 870), (312, 860), (345, 825),
                    (335, 795), (355, 770), (345, 720), (370, 720), (395, 650), (450, 670), (460, 600), (515, 545),
                    (545, 540), (540, 500), (555, 490), (565, 420)])],
    "Cuenca": [Z5([(395, 100), (415, 130), (470, 190), (500, 210), (520, 255), (570, 270), (590, 285), (575, 290), (570, 340),
                   (550, 405), (520, 410), (480, 465), (480, 515), (410, 575), (335, 570), (325, 545), (308, 548),
                   (318, 580), (250, 600), (240, 575), (220, 600), (185, 550), (120, 560), (100, 530), (75, 545), (55, 505),
                   (60, 425), (0, 330), (-11, 240), (0, 240), (15, 205), (35, 185), (65, 205), (85, 185), (95, 150),
                   (105, 85), (120, 100), (135, 85), (180, 85), (170, 50), (215, 40), (245, 15), (305, 0), (360, 20),
                   (380, 95)])],
    "Albacete": [Z5([(120, 560), (185, 550), (220, 600), (240, 575), (250, 600), (318, 580), (308, 548), (325, 545), (335, 570),
                     (410, 575), (480, 520), (510, 540), (585, 565), (555, 670), (590, 725), (650, 725), (655, 790),
                     (660, 830), (635, 845), (600, 815), (575, 800), (530, 830), (515, 825), (495, 850), (490, 960),
                     (460, 990), (430, 985), (400, 965), (315, 995), (265, 1040), (235, 1110), (175, 1090), (205, 1020),
                     (190, 950), (165, 910), (110, 900), (145, 810), (105, 755), (75, 725), (95, 660), (85, 640),
                     (120, 585)])],
    "Murcia": [Z5([(235, 1110), (265, 1040), (315, 995), (400, 965), (430, 985), (460, 990), (490, 960), (495, 850), (515, 825),
                   (530, 830), (575, 800), (600, 815), (635, 845), (630, 900), (605, 940), (605, 975), (640, 990),
                   (625, 1075), (660, 1135), (705, 1185), (675, 1240), (715, 1280), (650, 1305), (595, 1310), (510, 1330),
                   (445, 1385), (390, 1355), (335, 1265), (340, 1175), (270, 1160)])],
    "Valencia": [Z5([(590, 285), (625, 280), (660, 295), (665, 335), (695, 325), (730, 340), (740, 375), (770, 360), (795, 390),
                     (825, 355), (850, 370), (875, 390), (850, 435), (830, 510), (860, 610), (890, 700), (920, 750),
                     (880, 745), (855, 755), (815, 765), (755, 790), (775, 815), (745, 830), (715, 800), (680, 810),
                     (650, 790), (650, 725), (590, 725), (555, 670), (585, 565), (510, 540), (480, 510), (480, 465),
                     (520, 410), (550, 405), (570, 340), (575, 290)]),
                 Z5([(500, 210), (540, 200), (545, 185), (565, 220), (612, 250), (585, 272), (520, 265)])],
    "Castellón": [Z3([(35, 775), (60, 770), (90, 735), (155, 760), (190, 750), (225, 765), (230, 785), (270, 795), (300, 820),
                      (260, 880), (240, 900)])
                  + Z5([(930, 290), (875, 390), (850, 370), (825, 355), (795, 390), (770, 360), (740, 375), (730, 340),
                        (695, 325), (680, 285), (700, 260), (750, 235), (770, 165), (810, 140), (845, 115), (825, 85),
                        (850, 65), (820, 10)])],
    "Alicante": [Z5([(650, 790), (680, 810), (715, 800), (745, 830), (775, 815), (755, 790), (815, 765), (855, 755), (880, 745),
                     (920, 750), (970, 770), (995, 805), (950, 830), (910, 890), (830, 925), (800, 1000), (775, 1040),
                     (745, 1050), (735, 1125), (705, 1180), (660, 1135), (625, 1075), (640, 990), (605, 975), (605, 940),
                     (630, 900), (625, 845), (660, 830)])],
    "Baleares": [Z3([(848, 1130), (920, 1090), (965, 1050), (1045, 1020), (1075, 1045), (1095, 1045), (1070, 1050), (1115, 1085),
                     (1145, 1070), (1175, 1085), (1170, 1115), (1145, 1145), (1110, 1190), (1060, 1235), (1010, 1205),
                     (965, 1190), (965, 1150), (930, 1140), (900, 1150), (890, 1170), (885, 1150)]),
                 Z3([(1278, 990), (1330, 980), (1385, 1000), (1395, 1020), (1427, 1040), (1420, 1055), (1380, 1040),
                     (1325, 1015), (1285, 1018)]),
                 Z3([(515, 1340), (540, 1310), (590, 1295), (625, 1305), (620, 1320), (575, 1345), (555, 1375), (520, 1365),
                     (510, 1355)]),
                 Z3([(562, 1440), (565, 1420), (575, 1412), (590, 1430), (615, 1435), (600, 1440), (580, 1430)]),
                 Z3([(1060, 1020), (1095, 1012), (1070, 1025)])],
    "Santa Cruz de Tenerife": [Z9([(233, 1210), (260, 1195), (300, 1200), (312, 1220), (298, 1235), (303, 1260), (280, 1282),
                                   (270, 1275), (255, 1250)]),
                               Z9([(557, 1305), (590, 1310), (630, 1300), (690, 1300), (705, 1270), (750, 1258), (790, 1258),
                                   (780, 1270), (730, 1290), (720, 1320), (680, 1365), (650, 1385), (615, 1385), (590, 1355)]),
                               Z9([(430, 1355), (450, 1342), (490, 1355), (498, 1362), (475, 1378), (440, 1375)]),
                               Z9([(188, 1445), (225, 1445), (240, 1428), (265, 1428), (255, 1445), (235, 1468), (215, 1455)])],
    "Las Palmas": [Z9([(917, 1395), (955, 1360), (990, 1352), (1040, 1360), (1052, 1390), (1040, 1420), (990, 1447), (950, 1440),
                       (920, 1410)]),
                   Z9([(1315, 1367), (1365, 1360), (1398, 1340), (1402, 1315), (1440, 1270), (1460, 1230), (1505, 1220),
                       (1510, 1255), (1503, 1300), (1485, 1330), (1400, 1345), (1360, 1377)]),
                   V([(365, 856), (368, 848), (378, 843), (392, 838), (392, 842), (386, 850), (376, 854), (370, 858)]),
                   V([(388, 830), (391, 827), (391, 832)])],
}
SMALL_SPOTS = {"Melilla": (2139, 1813), "Ceuta": (1833, 1794)}
CIRCLES = {"Ceuta": (1844, 1869), "Melilla": (2129, 1869)}


# ---------------------------------------------------------------------------
# Helpers
# ---------------------------------------------------------------------------
def band_color(rho):
    if rho > 0.70:
        return LEGEND_COLORS[0]
    if rho > 0.30:
        return LEGEND_COLORS[1]
    if rho > 0.10:
        return LEGEND_COLORS[2]
    if rho >= -0.10:
        return LEGEND_COLORS[3]
    if rho >= -0.30:
        return LEGEND_COLORS[4]
    if rho > -0.70:
        return LEGEND_COLORS[5]
    return LEGEND_COLORS[6]


def draw_left_text(ax, x, y, s, size, **kw):
    ax.text(x, y, s, fontsize=size, ha="left", va="center", **kw)


# ---------------------------------------------------------------------------
# Figure
# ---------------------------------------------------------------------------
fig = plt.figure(figsize=(19.2, 12.18), dpi=200, facecolor="white")
ax = fig.add_axes([0, 0, 1, 1])
ax.set_xlim(0, 3840)
ax.set_ylim(2436, 0)
ax.axis("off")

colors = dict(zip(NAMES, [band_color(r) for r in RHO_REL]))
for name in NO_DATA:
    colors[name] = NO_DATA_COLOR

for name, parts in OUTLINES.items():
    for part in parts:
        xs, ys = zip(*part)
        ax.fill(xs, ys, facecolor=colors[name], edgecolor="white", linewidth=0.8, zorder=2)

for name, (x, y) in CIRCLES.items():
    ax.scatter([x], [y], s=85, color=colors[name], linewidths=0, zorder=3)
for name, (x, y) in SMALL_SPOTS.items():
    ax.scatter([x], [y], s=5, color=colors[name], linewidths=0, zorder=3)

# province labels
for name, n, rho in zip(NAMES, EMPRESAS, RHO_REL):
    x, y = LABEL_POS[name]
    small = name == "Melilla"
    ax.text(x, y + 2, name, fontsize=6.1 if small else 7.2, fontweight="bold", color="#111111",
            ha="center", va="center", zorder=5)
    ax.text(x, y + 30, f"Empresas: {n}", fontsize=5.3 if small else 6.15, color="#333333",
            ha="center", va="center", zorder=5)
    ax.text(x, y + 47.5, rf"$\rho_{{rel}}$: {rho:+.2f}", fontsize=5.3 if small else 6.15, color="#333333",
            ha="center", va="center", zorder=5)

for name, ((x, y1), (_, y2)) in NO_DATA_POS.items():
    s1, s2 = (6.1, 5.0) if name == "Ceuta" else (7.2, 5.85)
    ax.text(x, y1 + 1, name, fontsize=s1, color="#555555", ha="center", va="center", zorder=5)
    ax.text(x, y2 + 1, "Sin empresas", fontsize=s2, color="#999999", ha="center", va="center", zorder=5)

# header
ax.text(1861, 75, "Distribucion geografica ponderada por densidad - Cluster: 8080", fontsize=16.4,
        fontweight="bold", ha="center", va="center")
ax.text(1861, 168, r"$\rho_{rel}$: Densidad relativa respecto a la media nacional. Ej: +0.10 significa un 10% de sobreponderación.",
        fontsize=8.2, style="italic", ha="center", va="center")
ax.text(1861, 196, r"(Si una provincia tiene 50 empresas con $\rho_{rel}$ +0.10, tiene un exceso de 5 empresas respecto a su cuota esperada).",
        fontsize=8.2, style="italic", ha="center", va="center")

# left column
LEFT_X = 160
draw_left_text(ax, LEFT_X, 398, HEADLINE, 11.8, fontweight="bold")
for i, line in enumerate(TAGLINE):
    draw_left_text(ax, LEFT_X, 469 + 31 * i, line, 10.0)
draw_left_text(ax, LEFT_X, 695, "Total empresas: 499", 10.95, fontweight="bold")
ax.plot([159, 764], [733, 733], color="#999999", linewidth=0.9)
draw_left_text(ax, LEFT_X, 800, "Top 3 empresas (empleados)", 9)
for i, line in enumerate(TOP3):
    draw_left_text(ax, LEFT_X, 857 + 42.5 * i, line, 8.2, style="italic")
draw_left_text(ax, LEFT_X, 1040, "Principales keywords", 9.1, fontweight="bold")
for i, line in enumerate(KEYWORDS):
    draw_left_text(ax, LEFT_X, 1080 + 25.3 * i, line, 8.2)
draw_left_text(ax, LEFT_X, 1392, "Descripción del cluster", 9.15, fontweight="bold")
for i, line in enumerate(DESCRIPTION):
    draw_left_text(ax, LEFT_X, 1431 + 26 * i, line, 8.24, color="#555555")

# legend
ax.text(3225, 1984, "Referencias de colores", fontsize=10, ha="left", va="center")
handles = [Patch(facecolor=c, edgecolor="none", label=l) for c, l in zip(LEGEND_COLORS, LEGEND_LABELS)]
ax.legend(handles=handles, loc="upper left", bbox_to_anchor=(3225, 2041), bbox_transform=ax.transData,
          frameon=False, fontsize=9, borderpad=0, borderaxespad=0, handlelength=1.96, handleheight=0.6,
          handletextpad=0.88, labelspacing=0.576)

fig.savefig("out.png", dpi=200)
